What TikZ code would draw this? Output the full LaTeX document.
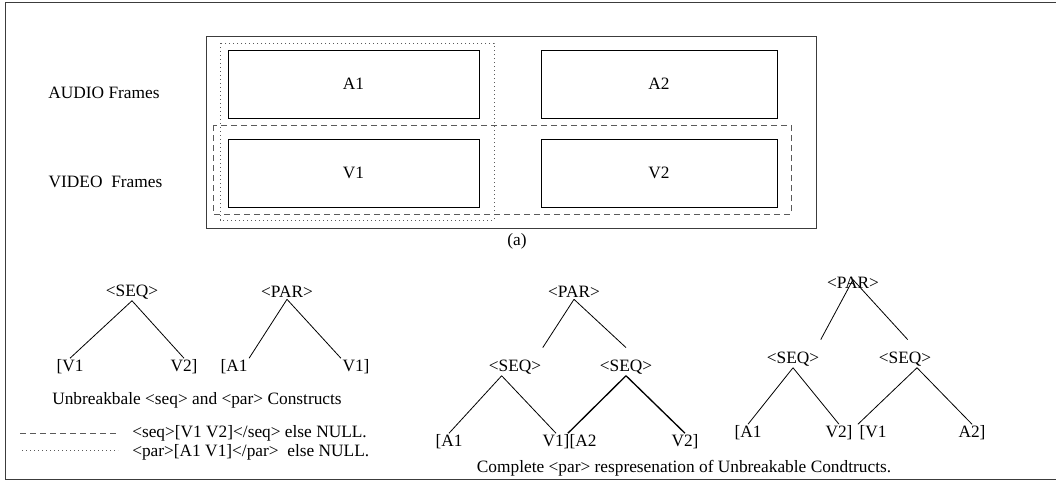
\documentclass[tikz,border=0pt]{standalone}
\usepackage{fontspec}
\setmainfont{Liberation Serif}
\usepackage{tikz}
\usetikzlibrary{positioning}
\definecolor{framecol}{RGB}{60,60,60}
\definecolor{keycol}{RGB}{90,90,90}
\tikzset{
  frm/.style={rectangle,draw,line width=0.75pt,minimum height=51pt,inner sep=0pt},
  lbl/.style={inner sep=1.5pt},
  tag/.style={inner sep=1pt},
  edge/.style={line width=0.6pt},
  seqkey/.style={draw=keycol,line width=0.75pt,dash pattern=on 4.5pt off 3pt},
  parkey/.style={draw=keycol,line width=0.75pt,dash pattern=on 1pt off 2pt}
}
\begin{document}
\begin{tikzpicture}[x=0.75pt,y=-0.75pt,font=\fontsize{13}{15.5}\selectfont]
  \useasboundingbox (0,0) rectangle (1056,483);
  % outer and inner frames
  \draw[framecol,line width=1.3pt] (1056,2.5)--(5.5,2.5)--(5.5,479.5)--(1056,479.5);
  \draw[framecol,line width=0.75pt] (206,36) rectangle (816,228);
  % (a): audio and video frames
  \node[lbl] (audio) at (104,93) {AUDIO Frames};
  \node[lbl] (video) at (105.5,182) {VIDEO\ \ Frames};
  \node[frm,minimum width=188.25pt] (a1) at (353.5,84) {A1};
  \node[frm,minimum width=177pt] (a2) at (659,84) {A2};
  \node[frm,minimum width=188.25pt] (v1) at (353.5,173) {V1};
  \node[frm,minimum width=177pt] (v2) at (659,173) {V2};
  \draw[parkey] (220,43) rectangle (494,220);
  \draw[seqkey] (213,125) rectangle (791,214);
  \node[lbl] (capa) at (517,241) {(a)};
  % unbreakable constructs
  \node[tag] (seq) at (132,292) {<SEQ>};
  \node[tag] (sv1) at (70,367) {[V1};\node[tag] (sv2) at (184,367) {V2]};
  \draw[edge] (seq.south)--(sv1.north);
  \draw[edge] (seq.south)--(sv2.north);
  \node[tag] (par) at (287,292) {<PAR>};
  \node[tag] (pa1) at (234,367) {[A1};\node[tag] (pv1) at (356,367) {V1]};
  \draw[edge] (par.south)--(pa1.north east);
  \draw[edge] (par.south)--(pv1.north west);
  \node[lbl] (capb) at (197,400) {Unbreakbale <seq> and <par> Constructs};
  \node[lbl,anchor=west] (seqtxt) at (130,433) {<seq>[V1 V2]</seq> else NULL.};
  \node[lbl,anchor=west] (partxt) at (130,452) {<par>[A1 V1]</par>\ \ else NULL.};
  \coordinate (sk1) at (20,433);\coordinate (sk2) at (118,433);
  \coordinate (pk1) at (22,450);\coordinate (pk2) at (118,450);
  \draw[seqkey] (sk1)--(sk2);
  \draw[parkey] (pk1)--(pk2);
  % complete par: first form
  \node[tag] (cpar) at (574,292) {<PAR>};
  \node[tag] (cseqa) at (515,367) {<SEQ>};\node[tag] (cseqb) at (626,367) {<SEQ>};
  \draw[edge] (cpar.south)--([yshift=8pt]cseqa.north east);
  \draw[edge] (cpar.south)--([yshift=8pt]cseqb.north);
  \node[tag] (ca1) at (449,442) {[A1};\node[tag] (cv1) at (556,442) {V1]};
  \node[tag] (ca2) at (583,442) {[A2};\node[tag] (cv2) at (685,442) {V2]};
  \draw[edge] ([xshift=-10pt]cseqa.south)--(ca1.north);
  \draw[edge] ([xshift=-10pt]cseqa.south)--(cv1.north);
  \draw[line width=1pt] (cseqb.south)--(ca2.north west);
  \draw[line width=1pt] (cseqb.south)--(cv2.north);
  % complete par: second form
  \node[tag] (dpar) at (853,283) {<PAR>};
  \node[tag] (dseqa) at (793,359) {<SEQ>};\node[tag] (dseqb) at (905,359) {<SEQ>};
  \draw[edge] ([yshift=8pt]dpar.south)--([yshift=8pt]dseqa.north east);
  \draw[edge] ([yshift=8pt]dpar.south)--([xshift=2pt,yshift=8pt]dseqb.north);
  \node[tag] (da1) at (748,433) {[A1};\node[tag] (dv2) at (839,433) {V2]};
  \node[tag] (dv1) at (873,433) {[V1};\node[tag] (da2) at (972,433) {A2]};
  \draw[edge] (dseqa.south)--(da1.north);
  \draw[edge] (dseqa.south)--(dv2.north);
  \draw[edge] ([xshift=9pt]dseqb.south)--(dv1.north west);
  \draw[edge] ([xshift=9pt]dseqb.south)--(da2.north);
  \node[lbl] (capc) at (684,468) {Complete <par> respresenation of Unbreakable Condtructs.};
\end{tikzpicture}
\end{document}
